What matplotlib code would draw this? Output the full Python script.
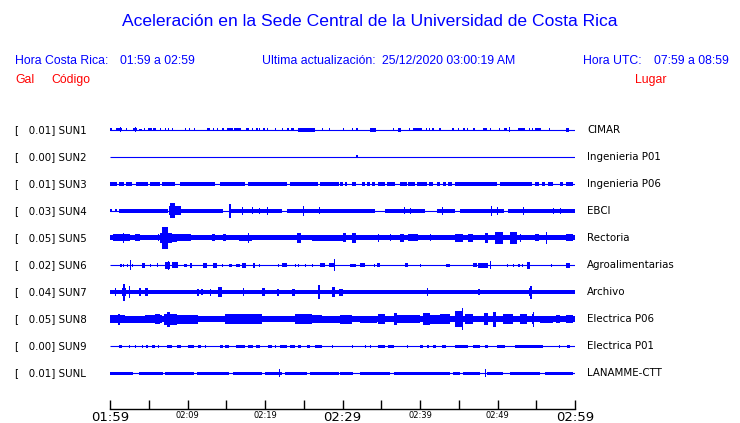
import matplotlib
matplotlib.use("Agg")
import matplotlib.pyplot as plt
from matplotlib import transforms

# stations
codes = ["SUN1", "SUN2", "SUN3", "SUN4", "SUN5", "SUN6", "SUN7", "SUN8", "SUN9", "SUNL"]
gals = [0.01, 0.00, 0.01, 0.03, 0.05, 0.02, 0.04, 0.05, 0.00, 0.01]
places = ["CIMAR", "Ingenieria P01", "Ingenieria P06", "EBCI", "Rectoria",
          "Agroalimentarias", "Archivo", "Electrica P06", "Electrica P01", "LANAMME-CTT"]

# constant noise band of each trace (half height, px)
base_amp = [0, 0, 0, 0, 2.5, 0, 2, 3, 0, 0]

# envelope bursts: (start min, end min, half height px)
sun1 = [(0.0, 0.3, 1.5), (0.8, 1.5, 1.5), (1.3, 1.3, 2.5), (2.0, 2.0, 1.5), (3.0, 3.5, 1.5),
        (3.2, 3.2, 2.5), (3.8, 4.1, 1.2), (4.4, 4.4, 1.5), (4.9, 5.4, 1.5), (5.6, 5.9, 1.5),
        (6.4, 6.4, 1.5), (7.1, 7.1, 1.5), (7.5, 7.5, 1.5), (8.0, 8.0, 1.5), (9.7, 9.7, 1.5),
        (10.2, 10.2, 1.5), (10.8, 10.8, 1.5), (12.5, 12.5, 1.5), (12.7, 12.7, 1.5),
        (13.3, 13.3, 1.5), (13.8, 13.8, 1.5), (14.5, 14.5, 1.5), (15.1, 15.9, 1.5),
        (16.0, 16.9, 1.5), (17.6, 17.9, 1.5), (18.3, 18.5, 1.5), (18.9, 18.9, 1.5),
        (19.2, 19.2, 1.5), (19.8, 19.8, 1.5), (20.3, 20.3, 1.5), (21.3, 21.3, 1.5),
        (22.2, 22.2, 1.5), (22.8, 23.1, 1.5), (23.4, 23.8, 1.5), (24.3, 26.5, 1.7),
        (27.3, 27.3, 1.5), (28.2, 28.2, 1.5), (30.0, 30.0, 1.5), (31.2, 31.2, 1.5),
        (31.8, 31.8, 1.5), (33.6, 34.3, 1.7), (36.5, 36.5, 1.5), (37.2, 37.6, 1.7),
        (38.6, 38.6, 1.5), (39.1, 40.2, 1.5), (40.8, 40.8, 1.5), (41.2, 41.2, 1.5),
        (41.6, 41.6, 1.5), (42.5, 42.5, 1.5), (44.1, 44.4, 1.5), (44.9, 44.9, 1.5),
        (45.6, 45.6, 1.5), (46.1, 46.1, 1.5), (46.9, 46.9, 1.5), (48.1, 48.6, 1.5),
        (49.0, 49.0, 1.5), (50.2, 50.2, 1.5), (50.9, 51.2, 1.5), (51.5, 51.5, 2.5),
        (52.6, 53.5, 1.5), (54.0, 54.0, 1.5), (54.4, 54.4, 1.5), (54.8, 55.6, 1.5),
        (56.6, 56.6, 1.5), (58.8, 59.2, 1.7)]
sun2 = [(31.8, 31.8, 1.5)]
sun3 = [(0.0, 0.9, 1.7), (1.2, 1.8, 1.7), (2.0, 2.9, 1.7), (3.4, 4.9, 1.7), (5.2, 6.5, 1.7),
        (6.7, 8.4, 1.7), (9.0, 13.5, 1.7), (14.2, 17.4, 1.7), (17.8, 22.8, 1.7),
        (23.2, 26.9, 1.7), (27.1, 29.5, 1.7), (29.7, 30.1, 1.7), (30.3, 30.6, 1.7),
        (31.2, 31.8, 1.7), (32.5, 32.9, 1.7), (33.1, 33.5, 1.7), (33.8, 34.2, 1.7),
        (34.6, 35.5, 1.7), (35.7, 36.8, 1.7), (37.4, 38.3, 1.7), (38.5, 39.4, 1.7),
        (39.6, 40.9, 1.7), (41.1, 41.7, 1.7), (42.2, 42.6, 1.7), (43.0, 43.4, 1.7),
        (43.6, 44.1, 1.7), (44.5, 49.9, 1.7), (50.3, 54.4, 1.7), (54.8, 55.3, 1.7),
        (55.7, 56.1, 1.7), (56.5, 57.2, 1.7), (58.1, 58.5, 1.7), (58.9, 59.8, 1.7)]
sun4 = [(0.0, 0.3, 1.5), (0.6, 0.9, 1.5), (1.2, 7.5, 2), (7.6, 9.2, 4.5), (7.7, 8.4, 7.5),
        (9.2, 14.6, 2), (15.4, 15.4, 7), (15.6, 22.2, 2), (17.0, 17.0, 4), (18.3, 18.3, 3.5),
        (19.2, 19.2, 3), (20.2, 20.2, 4), (22.8, 34.2, 2), (24.9, 24.9, 5), (27.0, 27.0, 3.5),
        (35.5, 40.7, 2), (37.9, 37.9, 3.5), (38.7, 38.7, 3), (42.2, 44.5, 2), (42.8, 42.8, 4),
        (45.2, 50.9, 2), (51.3, 60.0, 2), (49.2, 49.2, 5), (49.9, 49.9, 4), (53.3, 53.3, 4),
        (57.2, 57.2, 3), (58.0, 58.0, 3)]
sun5 = [(0.4, 2.6, 3.5), (1.7, 1.7, 5), (3.2, 3.9, 3.5), (6.2, 6.2, 3.5), (6.5, 8.0, 5),
        (6.7, 7.5, 11), (8.0, 8.6, 4), (8.6, 10.5, 3.5), (13.1, 13.5, 3.5), (14.6, 15.0, 3.5),
        (16.6, 18.3, 3), (17.8, 17.8, 5), (24.1, 24.7, 5), (26.0, 30.3, 3), (30.0, 30.5, 4.5),
        (31.2, 31.8, 5), (34.6, 34.6, 4), (36.1, 36.1, 3.5), (37.4, 37.9, 4), (38.5, 39.8, 3.5),
        (41.3, 41.3, 3.5), (44.5, 45.6, 4), (46.2, 46.9, 4), (48.4, 48.8, 5), (49.7, 50.7, 6),
        (51.6, 52.5, 6), (52.9, 52.9, 4), (54.9, 55.3, 3.5), (56.3, 56.3, 6), (58.9, 59.8, 3.5)]
sun6 = [(1.3, 1.5, 1.5), (1.7, 1.7, 1.5), (2.2, 2.2, 1.5), (2.6, 2.6, 5), (2.8, 3.0, 1.5),
        (4.1, 4.5, 2.5), (5.2, 5.2, 1.5), (6.0, 6.2, 2), (7.1, 7.7, 3.5), (7.5, 7.5, 4.5),
        (8.0, 8.8, 3), (9.5, 9.9, 1.5), (10.3, 10.6, 2.5), (12.0, 12.5, 2.5), (13.3, 13.8, 2.5),
        (14.4, 14.4, 1.5), (15.3, 15.7, 1.5), (16.3, 16.8, 1.5), (17.0, 17.6, 2.5),
        (18.5, 18.5, 2.5), (19.2, 19.2, 1.5), (21.7, 21.7, 1.5), (22.2, 22.8, 2),
        (23.9, 23.9, 1.5), (24.3, 24.3, 1.5), (25.2, 25.2, 1.5), (26.0, 26.0, 1.5),
        (27.1, 27.7, 2), (28.2, 29.0, 2), (28.9, 28.9, 6), (31.0, 31.8, 1.5), (32.3, 32.9, 2),
        (34.0, 34.0, 1.5), (34.4, 34.8, 2), (38.1, 38.5, 2), (40.0, 40.0, 1.5),
        (43.4, 43.9, 1.5), (46.9, 47.3, 2), (47.5, 48.8, 2.5), (49.0, 49.0, 4),
        (51.2, 51.2, 1.5), (52.0, 52.0, 1.5), (52.7, 52.7, 1.5), (53.1, 53.1, 1.5),
        (53.8, 54.2, 3.5), (56.9, 56.9, 1.5), (58.9, 59.3, 2.5)]
sun7 = [(0.6, 0.6, 4), (1.5, 2.1, 4), (1.7, 1.9, 8.5), (2.4, 2.6, 6), (3.7, 4.0, 4),
        (4.5, 4.9, 4), (11.2, 11.5, 3.5), (11.8, 11.8, 3), (12.9, 12.9, 3.5), (13.9, 14.4, 5),
        (17.2, 17.2, 4), (19.6, 20.0, 4), (21.5, 21.8, 3.5), (23.5, 23.9, 3.5),
        (26.9, 27.1, 7), (28.7, 29.0, 5), (29.5, 30.1, 3.5), (40.9, 40.9, 4),
        (47.5, 47.7, 3), (54.0, 54.5, 4), (54.2, 54.4, 6.5)]
sun8 = [(0.0, 1.9, 4), (1.0, 1.3, 5.5), (1.9, 4.5, 3.5), (4.5, 6.7, 4), (5.8, 6.4, 5),
        (7.0, 8.6, 5.5), (7.3, 7.7, 7.5), (8.6, 11.4, 4.5), (14.8, 16.6, 5), (16.6, 19.6, 5),
        (23.9, 26.0, 5), (26.0, 27.3, 4), (27.3, 30.3, 3.5), (29.7, 31.2, 4.5),
        (32.3, 34.4, 3.5), (34.6, 35.5, 5), (36.6, 37.0, 6), (37.0, 40.0, 4), (40.4, 41.3, 6),
        (41.3, 42.6, 4.5), (42.6, 43.9, 5), (44.5, 45.6, 8), (45.4, 45.4, 11), (45.8, 46.9, 5),
        (48.2, 48.8, 6), (49.4, 49.8, 7.5), (50.7, 52.0, 5), (52.9, 53.8, 5), (54.4, 54.4, 5),
        (54.6, 54.6, 7.5), (55.5, 57.2, 3.5), (57.6, 58.1, 4), (58.9, 59.8, 4)]
sun9 = [(1.2, 1.6, 1.5), (2.4, 2.4, 1.5), (3.2, 3.2, 1.5), (4.1, 4.1, 1.5), (4.7, 4.7, 1.5),
        (5.4, 5.8, 1.5), (6.2, 6.2, 1.5), (7.3, 8.0, 1.5), (8.6, 9.2, 1.5), (10.1, 10.8, 1.5),
        (11.4, 11.8, 1.5), (12.3, 12.3, 1.5), (14.2, 14.6, 1.5), (14.8, 15.4, 1.5),
        (16.3, 17.4, 1.5), (17.8, 18.5, 1.5), (18.9, 19.4, 1.5), (20.4, 20.9, 1.5),
        (21.3, 21.3, 1.5), (21.9, 22.8, 1.5), (23.2, 23.9, 1.5), (24.3, 24.7, 1.5),
        (25.4, 25.8, 1.5), (26.5, 27.3, 1.5), (28.6, 28.6, 1.5), (31.2, 31.2, 1.5),
        (32.9, 32.9, 1.5), (33.5, 33.5, 1.5), (34.6, 35.5, 1.5), (35.9, 36.6, 1.5),
        (38.3, 38.3, 1.5), (40.0, 40.4, 1.5), (40.9, 41.2, 1.5), (41.7, 42.1, 1.5),
        (42.8, 43.4, 1.5), (44.5, 46.2, 1.5), (46.9, 47.7, 1.5), (48.4, 48.8, 1.5),
        (49.9, 51.0, 1.5), (52.2, 55.9, 1.5), (57.9, 57.9, 1.5), (59.0, 59.3, 1.5)]
sunl = [(0.0, 3.0, 1.5), (3.7, 6.9, 1.5), (7.1, 10.8, 1.5), (11.2, 15.3, 1.5),
        (15.9, 19.6, 1.5), (20.0, 22.2, 1.5), (21.8, 21.8, 4), (22.6, 25.4, 1.5),
        (25.8, 29.5, 1.5), (29.7, 31.4, 1.5), (32.3, 36.1, 1.5), (36.6, 43.9, 1.5),
        (44.3, 45.2, 1.5), (45.6, 47.7, 1.5), (48.4, 48.4, 4), (48.6, 50.7, 1.5),
        (51.6, 55.5, 1.5), (56.1, 59.8, 1.5)]
bursts = [sun1, sun2, sun3, sun4, sun5, sun6, sun7, sun8, sun9, sunl]

tick_minutes = list(range(0, 61, 5))
tick_labels = ["01:59", "", "02:09", "", "02:19", "", "02:29", "", "02:39", "", "02:49", "", "02:59"]
big_labels = ["01:59", "02:29", "02:59"]

blue = "#0000ff"
red = "#ff0000"
W, H = 740, 423
row_gap = 27

fig = plt.figure(figsize=(W / 100, H / 100), dpi=100)
ax = fig.add_axes([110 / W, 14 / H, 465 / W, 297 / H])

for i in range(len(codes)):
    c = -row_gap * i
    ax.plot([0, 60], [c, c], color=blue, lw=0.8, solid_capstyle="butt")
    if base_amp[i] > 0:
        a = base_amp[i]
        ax.bar(0, 2 * a, bottom=c - a, width=60, align="edge", color=blue, linewidth=0)
    for t0, t1, a in bursts[i]:
        ax.bar(t0, 2 * a, bottom=c - a, width=max(t1 - t0, 0.15), align="edge",
               color=blue, linewidth=0)

ax.set_xlim(0, 60)
ax.set_ylim(-row_gap * 9 - 36, 18)
ax.set_yticks([])
for s in ["top", "left", "right"]:
    ax.spines[s].set_visible(False)
ax.spines["bottom"].set_linewidth(1.0)
ax.set_xticks(tick_minutes)
ax.set_xticklabels(tick_labels, family="DejaVu Sans")
ax.tick_params(axis="x", direction="in", length=6.5, width=1.0, pad=1.5)
for lab in ax.get_xticklabels():
    lab.set_fontsize(9.5 if lab.get_text() in big_labels else 6)

# station labels, in figure x and data y
trans = transforms.blended_transform_factory(fig.transFigure, ax.transData)
for i in range(len(codes)):
    c = -row_gap * i
    fig.text(15 / W, c, "[   %.2f] %s" % (gals[i], codes[i]), transform=trans,
             va="center", fontsize=7.4, family="DejaVu Sans")
    fig.text(587 / W, c, places[i], transform=trans, va="center", fontsize=7.4,
             family="DejaVu Sans")

# header
hf = "Liberation Sans"
fig.text(0.5, 1 - 22 / H, "Aceleración en la Sede Central de la Universidad de Costa Rica",
         ha="center", va="center", color=blue, fontsize=12.6, family=hf)
y2 = 1 - 61 / H
fig.text(15 / W, y2, "Hora Costa Rica:", color=blue, fontsize=8.8, family=hf, va="center")
fig.text(120 / W, y2, "01:59 a 02:59", color=blue, fontsize=8.8, family=hf, va="center")
fig.text(262 / W, y2, "Ultima actualización:", color=blue, fontsize=8.8, family=hf, va="center")
fig.text(382 / W, y2, "25/12/2020 03:00:19 AM", color=blue, fontsize=8.8, family=hf, va="center")
fig.text(583 / W, y2, "Hora UTC:", color=blue, fontsize=8.8, family=hf, va="center")
fig.text(654 / W, y2, "07:59 a 08:59", color=blue, fontsize=8.8, family=hf, va="center")
y3 = 1 - 80 / H
fig.text(15 / W, y3, "Gal", color=red, fontsize=8.8, family=hf, va="center")
fig.text(51 / W, y3, "Código", color=red, fontsize=8.8, family=hf, va="center")
fig.text(635 / W, y3, "Lugar", color=red, fontsize=8.8, family=hf, va="center")

fig.savefig("out.png", dpi=100)
